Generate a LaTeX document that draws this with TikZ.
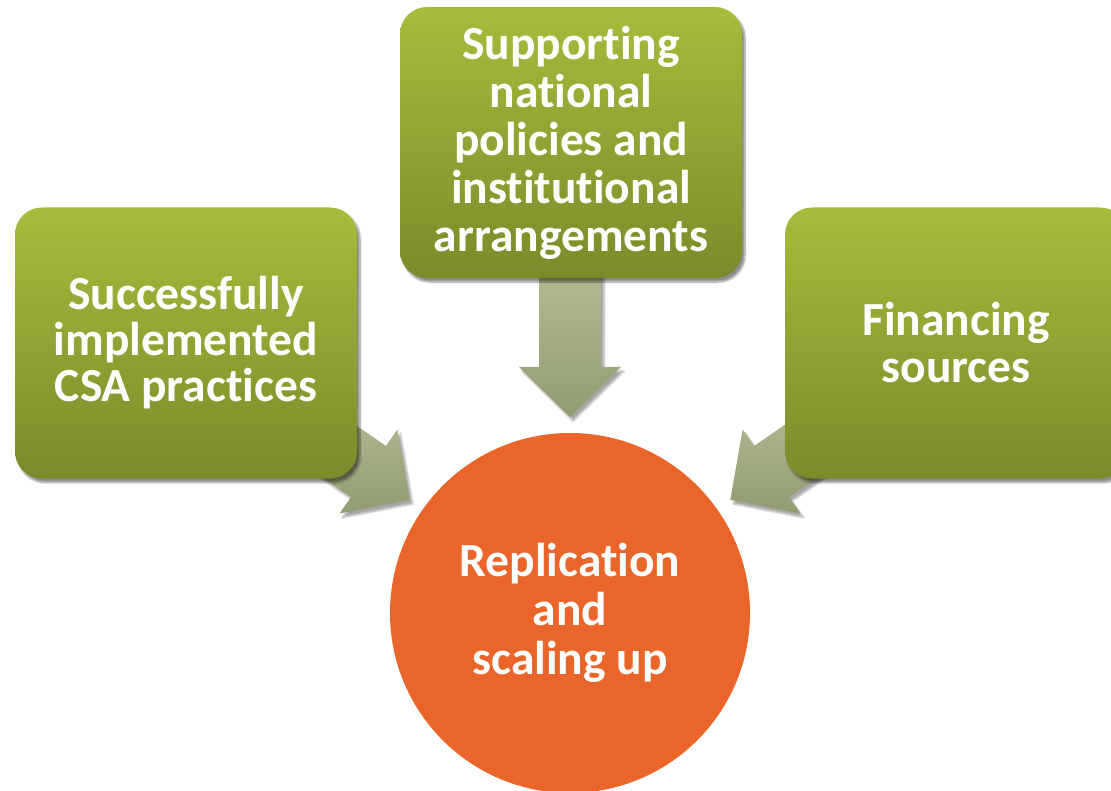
\documentclass[tikz,border=0pt]{standalone}
\usepackage{fontspec}
\setmainfont{Carlito}[Ligatures=NoCommon]
\usetikzlibrary{shadows.blur}
\definecolor{boxtop}{RGB}{168,187,59}
\definecolor{boxbot}{RGB}{122,139,42}
\definecolor{arrtop}{RGB}{181,189,148}
\definecolor{arrbot}{RGB}{146,156,113}
\definecolor{orangec}{RGB}{234,101,41}
\tikzset{
  greenbox/.style={rectangle, rounded corners=27pt, minimum width=342pt, minimum height=271pt,
    top color=boxtop, bottom color=boxbot, draw=none, text=white, align=center,
    font=\fontsize{47.5}{46}\selectfont\bfseries,
    blur shadow={shadow xshift=3pt, shadow yshift=-4pt, shadow blur steps=8, shadow opacity=45}},
  bigcircle/.style={circle, minimum size=360pt, inner sep=0pt, fill=orangec, draw=none,
    text=white, align=center, font=\fontsize{47.5}{49}\selectfont\bfseries},
  blockarrow/.style={top color=arrtop, bottom color=arrbot, draw=none,
    blur shadow={shadow xshift=3pt, shadow yshift=-4pt, shadow blur steps=6, shadow opacity=35}}
}
\begin{document}
\begin{tikzpicture}[x=1pt,y=-1pt]
\useasboundingbox (0,0) rectangle (1111,791);
% block arrows (drawn first, under boxes)
\path[blockarrow] (539,255) -- (601,255) -- (601,367) -- (621,367) -- (570,417) -- (519,367) -- (539,367) -- cycle;
\path[blockarrow] (268.6,440.4) -- (303.6,389.4) -- (386.0,446.0) -- (397.4,429.5) -- (409.7,499.8) -- (339.6,513.5) -- (351.0,497.0) -- cycle;
\path[blockarrow] (871.4,440.4) -- (836.4,389.4) -- (754.0,446.0) -- (742.6,429.5) -- (730.3,499.8) -- (800.4,513.5) -- (789.0,497.0) -- cycle;
% boxes
\node[greenbox] (csa) at (186,343) {Successfully\\implemented\\CSA practices};
\node[greenbox, font=\fontsize{47.5}{48}\selectfont\bfseries] (pol) at (571,142.5) {Supporting\\national\\policies and\\institutional\\arrangements};
\node[greenbox, font=\fontsize{47.5}{47}\selectfont\bfseries] (fin) at (956,343) {Financing\\sources};
% circle
\node[bigcircle] (rep) at (570,613) {Replication\\and\\scaling up};
\end{tikzpicture}
\end{document}
